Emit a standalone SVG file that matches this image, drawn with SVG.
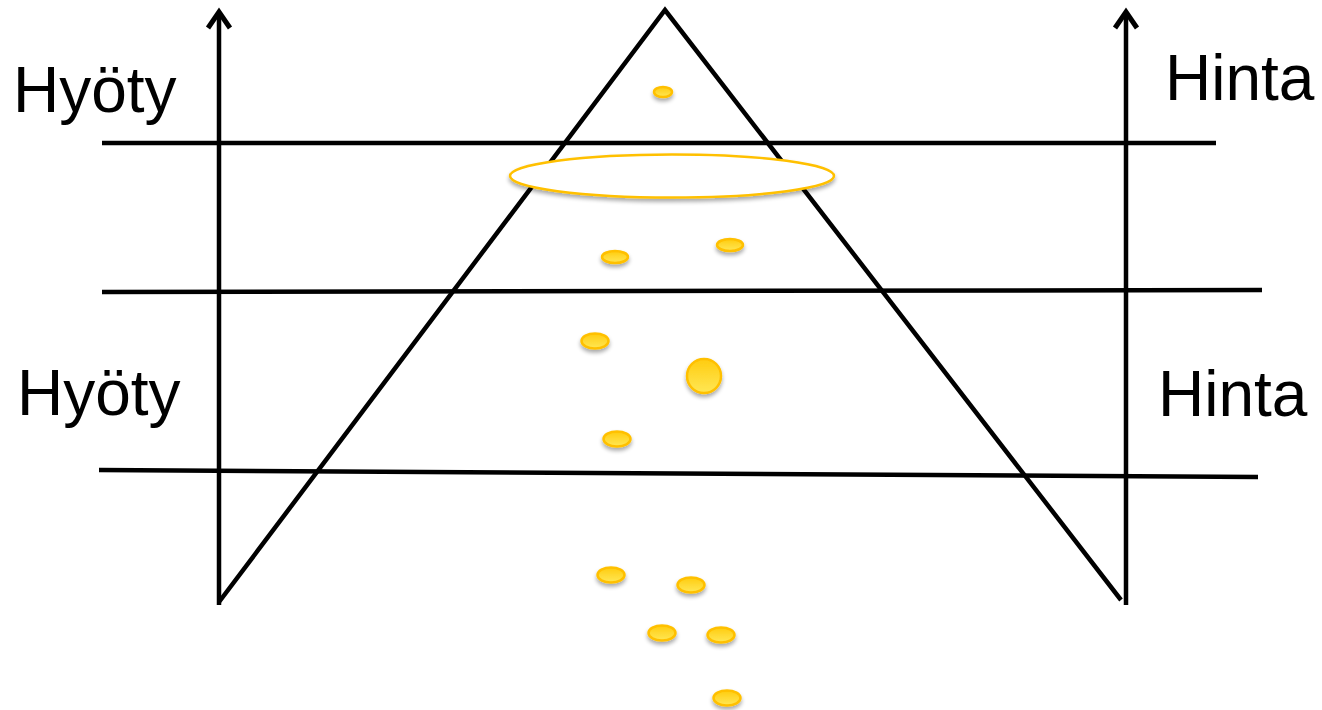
<svg xmlns="http://www.w3.org/2000/svg" width="1322" height="710" viewBox="0 0 1322 710">
<defs>
<linearGradient id="gold" x1="0" y1="0" x2="0" y2="1">
<stop offset="0" stop-color="#FFCC10"/>
<stop offset="1" stop-color="#FFE755"/>
</linearGradient>
<filter id="sh" x="-50%" y="-50%" width="200%" height="250%">
<feGaussianBlur in="SourceAlpha" stdDeviation="2"/>
<feOffset dx="0" dy="3" result="b"/>
<feComponentTransfer><feFuncA type="linear" slope="0.35"/></feComponentTransfer>
<feMerge><feMergeNode/><feMergeNode in="SourceGraphic"/></feMerge>
</filter>
</defs>
<style>
.ln{stroke:#000;stroke-width:4.5;fill:none;stroke-linecap:butt}
.ah{stroke:#000;stroke-width:5;fill:none;stroke-linejoin:miter}
.dot{fill:url(#gold);stroke:#FFC000;stroke-width:2.5;filter:url(#sh)}
.lbl{font-family:"Liberation Sans",Arial,sans-serif;font-size:64px;fill:#000}
</style>
<g id="connectors">
<line class="ln" x1="219" y1="605" x2="219" y2="12"/>
<polyline class="ah" points="208,28 219,12 230,28"/>
<line class="ln" x1="1126" y1="605" x2="1126" y2="12"/>
<polyline class="ah" points="1115,28 1126,12 1137,28"/>
<polyline class="ln" points="219,602 665,10 1121,600" stroke-linejoin="miter"/>
<line class="ln" x1="102" y1="143" x2="1216" y2="143"/>
<line class="ln" x1="102" y1="292" x2="1262" y2="290"/>
<line class="ln" x1="99" y1="470" x2="1258" y2="477"/>
</g>
<g id="ring">
<ellipse cx="672" cy="176" rx="162" ry="21.5" fill="#fff" stroke="#FFC000" stroke-width="2.5" filter="url(#sh)"/>
</g>
<g id="dots">
<ellipse class="dot" cx="663" cy="92" rx="9" ry="5"/>
<ellipse class="dot" cx="615" cy="257" rx="13" ry="6"/>
<ellipse class="dot" cx="730" cy="245" rx="13" ry="6"/>
<ellipse class="dot" cx="595" cy="341" rx="13.5" ry="7.5"/>
<circle class="dot" cx="704" cy="376" r="17"/>
<ellipse class="dot" cx="617" cy="439" rx="13.5" ry="7.5"/>
<ellipse class="dot" cx="611" cy="575" rx="13.5" ry="7.5"/>
<ellipse class="dot" cx="691" cy="585" rx="13.5" ry="7.5"/>
<ellipse class="dot" cx="662" cy="633" rx="13.5" ry="7.5"/>
<ellipse class="dot" cx="721" cy="635" rx="13.5" ry="7.5"/>
<ellipse class="dot" cx="727" cy="698" rx="13.5" ry="7.5"/>
</g>
<g id="label-hyoty-top"><text class="lbl" x="13" y="112">Hyöty</text></g>
<g id="label-hinta-top"><text class="lbl" x="1165" y="100">Hinta</text></g>
<g id="label-hyoty-bottom"><text class="lbl" x="17" y="415">Hyöty</text></g>
<g id="label-hinta-bottom"><text class="lbl" x="1158" y="416">Hinta</text></g>
</svg>
